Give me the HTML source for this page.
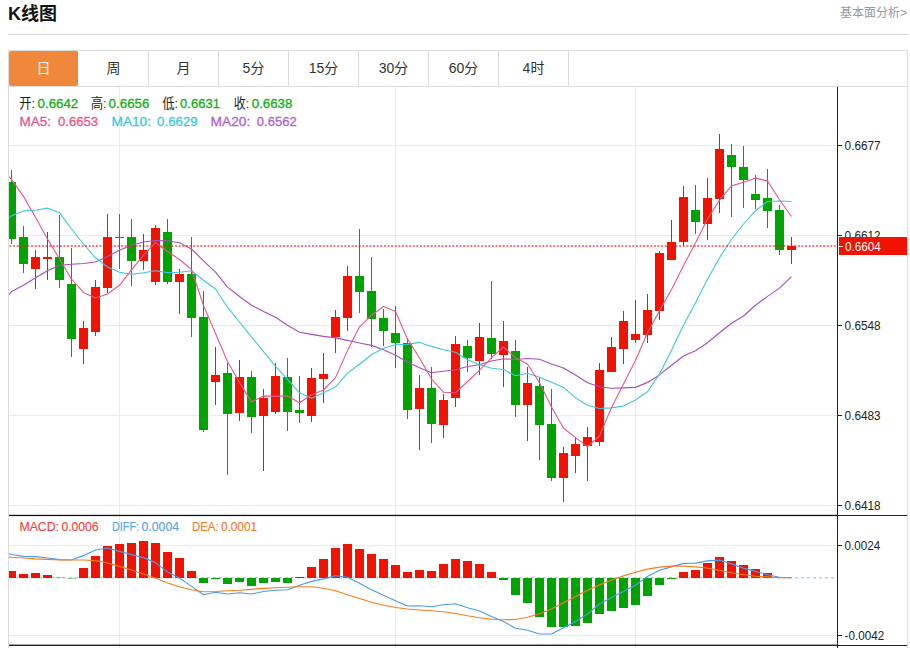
<!DOCTYPE html>
<html lang="zh"><head><meta charset="utf-8"><title>K线图</title>
<style>
html,body{margin:0;padding:0;background:#fff;}
body{width:910px;height:648px;position:relative;overflow:hidden;font-family:"Liberation Sans","Noto Sans CJK SC",sans-serif;color:#222;}
.title{position:absolute;left:8px;top:2px;font-size:18px;font-weight:bold;color:#111;line-height:24px;}
.more{position:absolute;right:3px;top:5px;font-size:12px;color:#999;line-height:16px;}
.hr{position:absolute;left:8px;top:34px;width:900px;height:1px;background:#d4d4d4;}
.tabs{position:absolute;left:8px;top:50px;width:898px;height:35px;border:1px solid #dcdcdc;display:flex;}
.tabs div{width:69px;height:35px;border-right:1px solid #dcdcdc;line-height:35px;text-align:center;font-size:14px;color:#333;}
.tabs div.on{background:#f0883c;color:#fff;border-radius:2px;border-right-color:#fff;}
</style></head><body>
<div class="title">K线图</div>
<div class="more">基本面分析&gt;</div>
<div class="hr"></div>
<div class="tabs"><div class="on">日</div><div>周</div><div>月</div><div>5分</div><div>15分</div><div>30分</div><div>60分</div><div>4时</div></div>
<svg width="910" height="648" viewBox="0 0 910 648" style="position:absolute;left:0;top:0" font-family="Liberation Sans, Noto Sans CJK SC, sans-serif">
<defs><clipPath id="cp"><rect x="9" y="87" width="828" height="559"/></clipPath></defs>
<line x1="9" x2="837" y1="145.5" y2="145.5" stroke="#e2ecf3" stroke-width="1"/>
<line x1="9" x2="837" y1="235.5" y2="235.5" stroke="#e2ecf3" stroke-width="1"/>
<line x1="9" x2="837" y1="325.5" y2="325.5" stroke="#e2ecf3" stroke-width="1"/>
<line x1="9" x2="837" y1="415.5" y2="415.5" stroke="#e2ecf3" stroke-width="1"/>
<line x1="9" x2="837" y1="505.5" y2="505.5" stroke="#e2ecf3" stroke-width="1"/>
<line x1="9" x2="837" y1="545.5" y2="545.5" stroke="#e2ecf3" stroke-width="1"/>
<line x1="9" x2="837" y1="635.5" y2="635.5" stroke="#e2ecf3" stroke-width="1"/>
<line x1="119.5" x2="119.5" y1="87" y2="648" stroke="#e2ecf3" stroke-width="1"/>
<line x1="395.5" x2="395.5" y1="87" y2="648" stroke="#e2ecf3" stroke-width="1"/>
<line x1="635.5" x2="635.5" y1="87" y2="648" stroke="#e2ecf3" stroke-width="1"/>
<line x1="8.5" x2="8.5" y1="87" y2="648" stroke="#dcdcdc" stroke-width="1"/>
<line x1="907.5" x2="907.5" y1="87" y2="648" stroke="#dddddd" stroke-width="1"/>
<line x1="9" x2="834.5" y1="577.7" y2="577.7" stroke="#a3d6f0" stroke-width="1.4" stroke-dasharray="3,3"/>
<g clip-path="url(#cp)" shape-rendering="crispEdges">
<rect x="11" y="170" width="1" height="74" fill="#00a400"/>
<rect x="7" y="182" width="9" height="57" fill="#00a400"/>
<rect x="23" y="226" width="1" height="47" fill="#00a400"/>
<rect x="19" y="237" width="9" height="27" fill="#00a400"/>
<rect x="35" y="250" width="1" height="39" fill="#f21202"/>
<rect x="31" y="257" width="9" height="12" fill="#f21202"/>
<rect x="47" y="232" width="1" height="48" fill="#f21202"/>
<rect x="43" y="257" width="9" height="2" fill="#f21202"/>
<rect x="59" y="215" width="1" height="73" fill="#00a400"/>
<rect x="55" y="257" width="9" height="23" fill="#00a400"/>
<rect x="71" y="248" width="1" height="109" fill="#00a400"/>
<rect x="67" y="284" width="9" height="55" fill="#00a400"/>
<rect x="83" y="321" width="1" height="43" fill="#f21202"/>
<rect x="79" y="328" width="9" height="21" fill="#f21202"/>
<rect x="95" y="280" width="1" height="56" fill="#f21202"/>
<rect x="91" y="287" width="9" height="45" fill="#f21202"/>
<rect x="107" y="214" width="1" height="79" fill="#f21202"/>
<rect x="103" y="237" width="9" height="51" fill="#f21202"/>
<rect x="119" y="214" width="1" height="55" fill="#00a400"/>
<rect x="115" y="237" width="9" height="1" fill="#00a400"/>
<rect x="131" y="219" width="1" height="67" fill="#00a400"/>
<rect x="127" y="237" width="9" height="24" fill="#00a400"/>
<rect x="143" y="234" width="1" height="36" fill="#f21202"/>
<rect x="139" y="250" width="9" height="11" fill="#f21202"/>
<rect x="155" y="225" width="1" height="60" fill="#f21202"/>
<rect x="151" y="228" width="9" height="54" fill="#f21202"/>
<rect x="167" y="219" width="1" height="65" fill="#00a400"/>
<rect x="163" y="232" width="9" height="50" fill="#00a400"/>
<rect x="179" y="269" width="1" height="45" fill="#f21202"/>
<rect x="175" y="274" width="9" height="8" fill="#f21202"/>
<rect x="191" y="237" width="1" height="100" fill="#00a400"/>
<rect x="187" y="274" width="9" height="44" fill="#00a400"/>
<rect x="203" y="291" width="1" height="141" fill="#00a400"/>
<rect x="199" y="317" width="9" height="113" fill="#00a400"/>
<rect x="215" y="347" width="1" height="58" fill="#f21202"/>
<rect x="211" y="375" width="9" height="7" fill="#f21202"/>
<rect x="227" y="363" width="1" height="112" fill="#00a400"/>
<rect x="223" y="373" width="9" height="41" fill="#00a400"/>
<rect x="239" y="360" width="1" height="61" fill="#f21202"/>
<rect x="235" y="377" width="9" height="36" fill="#f21202"/>
<rect x="251" y="371" width="1" height="62" fill="#00a400"/>
<rect x="247" y="377" width="9" height="40" fill="#00a400"/>
<rect x="263" y="389" width="1" height="82" fill="#f21202"/>
<rect x="259" y="398" width="9" height="18" fill="#f21202"/>
<rect x="275" y="363" width="1" height="51" fill="#f21202"/>
<rect x="271" y="376" width="9" height="36" fill="#f21202"/>
<rect x="287" y="358" width="1" height="73" fill="#00a400"/>
<rect x="283" y="377" width="9" height="35" fill="#00a400"/>
<rect x="299" y="376" width="1" height="47" fill="#00a400"/>
<rect x="295" y="410" width="9" height="3" fill="#00a400"/>
<rect x="311" y="368" width="1" height="54" fill="#f21202"/>
<rect x="307" y="378" width="9" height="38" fill="#f21202"/>
<rect x="323" y="353" width="1" height="50" fill="#f21202"/>
<rect x="319" y="374" width="9" height="5" fill="#f21202"/>
<rect x="335" y="310" width="1" height="43" fill="#f21202"/>
<rect x="331" y="317" width="9" height="20" fill="#f21202"/>
<rect x="347" y="266" width="1" height="65" fill="#f21202"/>
<rect x="343" y="276" width="9" height="42" fill="#f21202"/>
<rect x="359" y="229" width="1" height="84" fill="#00a400"/>
<rect x="355" y="276" width="9" height="16" fill="#00a400"/>
<rect x="371" y="257" width="1" height="90" fill="#00a400"/>
<rect x="367" y="291" width="9" height="28" fill="#00a400"/>
<rect x="383" y="309" width="1" height="37" fill="#00a400"/>
<rect x="379" y="318" width="9" height="13" fill="#00a400"/>
<rect x="395" y="306" width="1" height="62" fill="#00a400"/>
<rect x="391" y="333" width="9" height="10" fill="#00a400"/>
<rect x="407" y="338" width="1" height="81" fill="#00a400"/>
<rect x="403" y="343" width="9" height="67" fill="#00a400"/>
<rect x="419" y="375" width="1" height="75" fill="#f21202"/>
<rect x="415" y="388" width="9" height="21" fill="#f21202"/>
<rect x="431" y="367" width="1" height="76" fill="#00a400"/>
<rect x="427" y="388" width="9" height="36" fill="#00a400"/>
<rect x="443" y="394" width="1" height="44" fill="#f21202"/>
<rect x="439" y="400" width="9" height="25" fill="#f21202"/>
<rect x="455" y="336" width="1" height="71" fill="#f21202"/>
<rect x="451" y="344" width="9" height="54" fill="#f21202"/>
<rect x="467" y="340" width="1" height="32" fill="#00a400"/>
<rect x="463" y="346" width="9" height="12" fill="#00a400"/>
<rect x="479" y="323" width="1" height="52" fill="#f21202"/>
<rect x="475" y="337" width="9" height="24" fill="#f21202"/>
<rect x="491" y="281" width="1" height="78" fill="#00a400"/>
<rect x="487" y="338" width="9" height="16" fill="#00a400"/>
<rect x="503" y="321" width="1" height="66" fill="#f21202"/>
<rect x="499" y="341" width="9" height="14" fill="#f21202"/>
<rect x="515" y="340" width="1" height="77" fill="#00a400"/>
<rect x="511" y="351" width="9" height="54" fill="#00a400"/>
<rect x="527" y="367" width="1" height="74" fill="#f21202"/>
<rect x="523" y="383" width="9" height="22" fill="#f21202"/>
<rect x="539" y="377" width="1" height="83" fill="#00a400"/>
<rect x="535" y="386" width="9" height="39" fill="#00a400"/>
<rect x="551" y="389" width="1" height="92" fill="#00a400"/>
<rect x="547" y="424" width="9" height="54" fill="#00a400"/>
<rect x="563" y="447" width="1" height="55" fill="#f21202"/>
<rect x="559" y="453" width="9" height="25" fill="#f21202"/>
<rect x="575" y="437" width="1" height="36" fill="#f21202"/>
<rect x="571" y="444" width="9" height="12" fill="#f21202"/>
<rect x="587" y="427" width="1" height="54" fill="#f21202"/>
<rect x="583" y="437" width="9" height="9" fill="#f21202"/>
<rect x="599" y="363" width="1" height="83" fill="#f21202"/>
<rect x="595" y="370" width="9" height="72" fill="#f21202"/>
<rect x="611" y="337" width="1" height="35" fill="#f21202"/>
<rect x="607" y="347" width="9" height="25" fill="#f21202"/>
<rect x="623" y="311" width="1" height="53" fill="#f21202"/>
<rect x="619" y="321" width="9" height="28" fill="#f21202"/>
<rect x="635" y="300" width="1" height="43" fill="#f21202"/>
<rect x="631" y="334" width="9" height="6" fill="#f21202"/>
<rect x="647" y="294" width="1" height="49" fill="#f21202"/>
<rect x="643" y="310" width="9" height="25" fill="#f21202"/>
<rect x="659" y="251" width="1" height="69" fill="#f21202"/>
<rect x="655" y="253" width="9" height="58" fill="#f21202"/>
<rect x="671" y="220" width="1" height="40" fill="#f21202"/>
<rect x="667" y="242" width="9" height="18" fill="#f21202"/>
<rect x="683" y="186" width="1" height="60" fill="#f21202"/>
<rect x="679" y="197" width="9" height="45" fill="#f21202"/>
<rect x="695" y="185" width="1" height="49" fill="#00a400"/>
<rect x="691" y="210" width="9" height="12" fill="#00a400"/>
<rect x="707" y="178" width="1" height="62" fill="#f21202"/>
<rect x="703" y="198" width="9" height="26" fill="#f21202"/>
<rect x="719" y="134" width="1" height="79" fill="#f21202"/>
<rect x="715" y="149" width="9" height="50" fill="#f21202"/>
<rect x="731" y="144" width="1" height="73" fill="#00a400"/>
<rect x="727" y="155" width="9" height="12" fill="#00a400"/>
<rect x="743" y="146" width="1" height="62" fill="#00a400"/>
<rect x="739" y="167" width="9" height="13" fill="#00a400"/>
<rect x="755" y="175" width="1" height="34" fill="#00a400"/>
<rect x="751" y="194" width="9" height="6" fill="#00a400"/>
<rect x="767" y="169" width="1" height="59" fill="#00a400"/>
<rect x="763" y="198" width="9" height="13" fill="#00a400"/>
<rect x="779" y="205" width="1" height="50" fill="#00a400"/>
<rect x="775" y="210" width="9" height="40" fill="#00a400"/>
<rect x="791" y="237" width="1" height="27" fill="#f21202"/>
<rect x="787" y="246" width="9" height="4" fill="#f21202"/>
<rect x="7" y="571" width="9" height="7" fill="#f21202"/>
<rect x="19" y="574" width="9" height="4" fill="#f21202"/>
<rect x="31" y="573" width="9" height="5" fill="#f21202"/>
<rect x="43" y="575" width="9" height="3" fill="#f21202"/>
<rect x="55" y="577" width="9" height="1" fill="#f21202" fill-opacity="0.35"/>
<rect x="67" y="578" width="9" height="1" fill="#00a400" fill-opacity="0.4"/>
<rect x="79" y="568" width="9" height="10" fill="#f21202"/>
<rect x="91" y="556" width="9" height="22" fill="#f21202"/>
<rect x="103" y="546" width="9" height="32" fill="#f21202"/>
<rect x="115" y="544" width="9" height="34" fill="#f21202"/>
<rect x="127" y="543" width="9" height="35" fill="#f21202"/>
<rect x="139" y="541" width="9" height="37" fill="#f21202"/>
<rect x="151" y="543" width="9" height="35" fill="#f21202"/>
<rect x="163" y="552" width="9" height="26" fill="#f21202"/>
<rect x="175" y="558" width="9" height="20" fill="#f21202"/>
<rect x="187" y="571" width="9" height="7" fill="#f21202"/>
<rect x="199" y="578" width="9" height="5" fill="#00a400"/>
<rect x="211" y="578" width="9" height="1" fill="#00a400"/>
<rect x="223" y="578" width="9" height="6" fill="#00a400"/>
<rect x="235" y="578" width="9" height="4" fill="#00a400"/>
<rect x="247" y="578" width="9" height="8" fill="#00a400"/>
<rect x="259" y="578" width="9" height="5" fill="#00a400"/>
<rect x="271" y="578" width="9" height="4" fill="#00a400"/>
<rect x="283" y="578" width="9" height="5" fill="#00a400"/>
<rect x="295" y="577" width="9" height="1" fill="#f21202"/>
<rect x="307" y="567" width="9" height="11" fill="#f21202"/>
<rect x="319" y="559" width="9" height="19" fill="#f21202"/>
<rect x="331" y="548" width="9" height="30" fill="#f21202"/>
<rect x="343" y="544" width="9" height="34" fill="#f21202"/>
<rect x="355" y="549" width="9" height="29" fill="#f21202"/>
<rect x="367" y="554" width="9" height="24" fill="#f21202"/>
<rect x="379" y="559" width="9" height="19" fill="#f21202"/>
<rect x="391" y="565" width="9" height="13" fill="#f21202"/>
<rect x="403" y="572" width="9" height="6" fill="#f21202"/>
<rect x="415" y="570" width="9" height="8" fill="#f21202"/>
<rect x="427" y="571" width="9" height="7" fill="#f21202"/>
<rect x="439" y="564" width="9" height="14" fill="#f21202"/>
<rect x="451" y="559" width="9" height="19" fill="#f21202"/>
<rect x="463" y="561" width="9" height="17" fill="#f21202"/>
<rect x="475" y="564" width="9" height="14" fill="#f21202"/>
<rect x="487" y="572" width="9" height="6" fill="#f21202"/>
<rect x="499" y="578" width="9" height="2" fill="#00a400"/>
<rect x="511" y="578" width="9" height="17" fill="#00a400"/>
<rect x="523" y="578" width="9" height="25" fill="#00a400"/>
<rect x="535" y="578" width="9" height="39" fill="#00a400"/>
<rect x="547" y="578" width="9" height="49" fill="#00a400"/>
<rect x="559" y="578" width="9" height="49" fill="#00a400"/>
<rect x="571" y="578" width="9" height="48" fill="#00a400"/>
<rect x="583" y="578" width="9" height="45" fill="#00a400"/>
<rect x="595" y="578" width="9" height="36" fill="#00a400"/>
<rect x="607" y="578" width="9" height="33" fill="#00a400"/>
<rect x="619" y="578" width="9" height="30" fill="#00a400"/>
<rect x="631" y="578" width="9" height="27" fill="#00a400"/>
<rect x="643" y="578" width="9" height="18" fill="#00a400"/>
<rect x="655" y="578" width="9" height="7" fill="#00a400"/>
<rect x="667" y="578" width="9" height="1" fill="#00a400"/>
<rect x="679" y="572" width="9" height="6" fill="#f21202"/>
<rect x="691" y="570" width="9" height="8" fill="#f21202"/>
<rect x="703" y="563" width="9" height="15" fill="#f21202"/>
<rect x="715" y="557" width="9" height="21" fill="#f21202"/>
<rect x="727" y="561" width="9" height="17" fill="#f21202"/>
<rect x="739" y="565" width="9" height="13" fill="#f21202"/>
<rect x="751" y="569" width="9" height="9" fill="#f21202"/>
<rect x="763" y="573" width="9" height="5" fill="#f21202"/>
</g>
<g clip-path="url(#cp)">
<polyline fill="none" stroke="#ab4dc4" stroke-width="1.15" stroke-linejoin="round" points="9,294.6 11.5,291.6 23.5,285.3 35.5,277.8 47.5,270.8 59.5,265.3 71.5,264.3 83.5,263.5 95.5,262 107.5,256.5 119.5,250.3 131.5,245.2 143.5,242 155.5,240.5 167.5,240.7 179.5,242.7 191.5,249 203.5,260.8 215.5,272.2 227.5,287.1 239.5,296.5 251.5,305.3 263.5,311.5 275.5,317.3 287.5,325.3 299.5,332.2 311.5,334.4 323.5,336.4 335.5,337.9 347.5,340.4 359.5,343 371.5,345.4 383.5,349.7 395.5,355.2 407.5,362 419.5,367.8 431.5,372.7 443.5,371.3 455.5,369.7 467.5,366.5 479.5,364.7 491.5,361 503.5,358.7 515.5,359.5 527.5,358.5 539.5,359.2 551.5,364 563.5,368 575.5,375.1 587.5,382.8 599.5,386.7 611.5,388.2 623.5,387.9 635.5,387.4 647.5,382.4 659.5,374.9 671.5,365.3 683.5,356 695.5,350.8 707.5,342.8 719.5,332.8 731.5,323.2 743.5,316 755.5,305.2 767.5,296.4 779.5,288.1 791.5,276.6"/>
<polyline fill="none" stroke="#3fc6e0" stroke-width="1.1" stroke-linejoin="round" points="9,218.2 11.5,215.7 23.5,210.9 35.5,210.2 47.5,208.1 59.5,212.7 71.5,229 83.5,244 95.5,257.8 107.5,267 119.5,272.3 131.5,274.3 143.5,272.8 155.5,270.8 167.5,272.6 179.5,272.3 191.5,270.8 203.5,280.3 215.5,289 227.5,307.2 239.5,322 251.5,336.8 263.5,351.6 275.5,366.3 287.5,379.4 299.5,392.7 311.5,398.2 323.5,392.7 335.5,387.1 347.5,373.1 359.5,364.2 371.5,354.8 383.5,348.2 395.5,344.7 407.5,344.2 419.5,342.4 431.5,346.4 443.5,349.7 455.5,352.2 467.5,359.7 479.5,364.7 491.5,368.2 503.5,369.5 515.5,375.8 527.5,373.3 539.5,377.3 551.5,382.3 563.5,387.4 575.5,397.9 587.5,405.2 599.5,408.5 611.5,407.9 623.5,406 635.5,400 647.5,391.8 659.5,374.1 671.5,350.3 683.5,325.2 695.5,302.7 707.5,279.3 719.5,257.7 731.5,239.5 743.5,224 755.5,210.7 767.5,201.5 779.5,201 791.5,201.5"/>
<polyline fill="none" stroke="#ea5788" stroke-width="1.1" stroke-linejoin="round" points="9,177 11.5,179.6 23.5,196.4 35.5,217.2 47.5,239 59.5,259 71.5,279 83.5,292.4 95.5,297.9 107.5,294 119.5,285.3 131.5,269.8 143.5,255.3 155.5,242.7 167.5,251.5 179.5,259.5 191.5,269.5 203.5,305.5 215.5,333.5 227.5,361.5 239.5,382.6 251.5,401.9 263.5,395.9 275.5,396.4 287.5,395.9 299.5,402.7 311.5,394.8 323.5,390 335.5,377.6 347.5,350.6 359.5,326.8 371.5,315.3 383.5,306.5 395.5,311.5 407.5,339 419.5,358 431.5,379 443.5,392.3 455.5,392.8 467.5,381.5 479.5,370.3 491.5,357.7 503.5,347 515.5,357.7 527.5,364 539.5,382.8 551.5,407 563.5,428 575.5,437.6 587.5,446.6 599.5,436 611.5,407.4 623.5,384 635.5,360.3 647.5,332.8 659.5,310.7 671.5,289.6 683.5,265.5 695.5,243 707.5,219 719.5,200.2 731.5,185.9 743.5,182.2 755.5,178.1 767.5,180.9 779.5,199.7 791.5,216.5"/>
<polyline fill="none" stroke="#4a9ceb" stroke-width="1.15" stroke-linejoin="round" points="9,553.9 11.5,554.5 23.5,556.4 35.5,556.6 47.5,558 59.5,559.6 71.5,560 83.5,555.6 95.5,550 107.5,548 119.5,551.4 131.5,554.6 143.5,557.6 155.5,562.6 167.5,572 179.5,578 191.5,586.4 203.5,594.7 215.5,592.2 227.5,594 239.5,592.7 251.5,594 263.5,591.5 275.5,590.2 287.5,589.7 299.5,585.2 311.5,581.4 323.5,578.9 335.5,575.7 347.5,577.2 359.5,583.2 371.5,589.7 383.5,595.2 395.5,600.7 407.5,606 419.5,605.7 431.5,606.7 443.5,604.7 455.5,603.7 467.5,607.7 479.5,611 491.5,616.5 503.5,621.5 515.5,628.3 527.5,630.3 539.5,634 551.5,634 563.5,627.8 575.5,621.5 587.5,614 599.5,604 611.5,597.4 623.5,591.2 635.5,585.2 647.5,576.4 659.5,570.2 671.5,566.9 683.5,563.4 695.5,563.1 707.5,560.9 719.5,560.1 731.5,563.9 743.5,568.1 755.5,571.4 767.5,574.7 779.5,577.2 791.5,577.7"/>
<polyline fill="none" stroke="#f97c1c" stroke-width="1.15" stroke-linejoin="round" points="9,556.9 11.5,557.2 23.5,558 35.5,558.9 47.5,559.4 59.5,559.9 71.5,560 83.5,560 95.5,560.6 107.5,563 119.5,566.4 131.5,570 143.5,574 155.5,578 167.5,583 179.5,586.7 191.5,589.7 203.5,591.7 215.5,591.5 227.5,590.7 239.5,590.2 251.5,589.4 263.5,588.4 275.5,587.7 287.5,587.2 299.5,586.7 311.5,586.7 323.5,588.2 335.5,590.7 347.5,594.7 359.5,598.5 371.5,602.2 383.5,605.2 395.5,607.5 407.5,609 419.5,610 431.5,610.8 443.5,611.8 455.5,613.5 467.5,615.8 479.5,617.8 491.5,619.3 503.5,619.8 515.5,619.5 527.5,617.3 539.5,613.8 551.5,609 563.5,602.7 575.5,596.5 587.5,590.2 599.5,584.9 611.5,580.2 623.5,575.9 635.5,572.2 647.5,569.1 659.5,567.1 671.5,566.1 683.5,566.1 695.5,566.9 707.5,568.1 719.5,570.2 731.5,572.7 743.5,574.7 755.5,576.2 767.5,576.9 779.5,577.7 791.5,577.7"/>
</g>
<line x1="9.5" x2="835.6" y1="246" y2="246" stroke="#f21202" stroke-opacity="0.56" stroke-width="2" stroke-dasharray="2,1.6"/>
<rect x="837" y="87" width="1" height="561" fill="#222"/>
<rect x="9" y="514.8" width="829" height="1.3" fill="#111"/>
<rect x="838" y="515" width="69" height="1" fill="#222"/>
<rect x="9" y="644.6" width="829" height="1.3" fill="#111"/>
<rect x="838" y="645" width="69" height="1" fill="#222"/>
<rect x="838" y="145" width="4" height="1" fill="#222"/>
<text x="844.6" y="149.8" font-size="12.5" fill="#222" textLength="36" lengthAdjust="spacingAndGlyphs">0.6677</text>
<rect x="838" y="235" width="4" height="1" fill="#222"/>
<text x="844.6" y="239.8" font-size="12.5" fill="#222" textLength="36" lengthAdjust="spacingAndGlyphs">0.6612</text>
<rect x="838" y="325" width="4" height="1" fill="#222"/>
<text x="844.6" y="329.8" font-size="12.5" fill="#222" textLength="36" lengthAdjust="spacingAndGlyphs">0.6548</text>
<rect x="838" y="415" width="4" height="1" fill="#222"/>
<text x="844.6" y="419.8" font-size="12.5" fill="#222" textLength="36" lengthAdjust="spacingAndGlyphs">0.6483</text>
<rect x="838" y="505" width="4" height="1" fill="#222"/>
<text x="844.6" y="509.8" font-size="12.5" fill="#222" textLength="36" lengthAdjust="spacingAndGlyphs">0.6418</text>
<rect x="838" y="545" width="4" height="1" fill="#222"/>
<text x="844.6" y="549.8" font-size="12.5" fill="#222" textLength="35.6" lengthAdjust="spacingAndGlyphs">0.0024</text>
<rect x="838" y="635" width="4" height="1" fill="#222"/>
<text x="844.6" y="639.8" font-size="12.5" fill="#222" textLength="39.6" lengthAdjust="spacingAndGlyphs">-0.0042</text>
<rect x="839" y="237" width="68" height="18" fill="#f21202"/>
<rect x="839" y="246" width="4" height="0.8" fill="#fff"/>
<text x="844.9" y="250.8" font-size="12.5" fill="#fff" textLength="36" lengthAdjust="spacingAndGlyphs">0.6604</text>
<text x="19.3" y="108" font-size="13.4" fill="#222" textLength="15.7" lengthAdjust="spacingAndGlyphs">开:</text>
<text x="37.6" y="108" font-size="13.4" fill="#14ab16" stroke="#14ab16" stroke-width="0.3" textLength="40.6" lengthAdjust="spacingAndGlyphs">0.6642</text>
<text x="90.7" y="108" font-size="13.4" fill="#222" textLength="15.8" lengthAdjust="spacingAndGlyphs">高:</text>
<text x="108.6" y="108" font-size="13.4" fill="#14ab16" stroke="#14ab16" stroke-width="0.3" textLength="40.8" lengthAdjust="spacingAndGlyphs">0.6656</text>
<text x="162.2" y="108" font-size="13.4" fill="#222" textLength="15.8" lengthAdjust="spacingAndGlyphs">低:</text>
<text x="180.1" y="108" font-size="13.4" fill="#14ab16" stroke="#14ab16" stroke-width="0.3" textLength="39.8" lengthAdjust="spacingAndGlyphs">0.6631</text>
<text x="233.8" y="108" font-size="13.4" fill="#222" textLength="15.2" lengthAdjust="spacingAndGlyphs">收:</text>
<text x="251.8" y="108" font-size="13.4" fill="#14ab16" stroke="#14ab16" stroke-width="0.3" textLength="40.6" lengthAdjust="spacingAndGlyphs">0.6638</text>
<text x="19.4" y="126" font-size="13.4" fill="#ea5788" stroke="#ea5788" stroke-width="0.3" textLength="31.6" lengthAdjust="spacingAndGlyphs">MA5:</text>
<text x="58.1" y="126" font-size="13.4" fill="#ea5788" stroke="#ea5788" stroke-width="0.3" textLength="39.8" lengthAdjust="spacingAndGlyphs">0.6653</text>
<text x="111.5" y="126" font-size="13.4" fill="#3fc6e0" stroke="#3fc6e0" stroke-width="0.3" textLength="39.5" lengthAdjust="spacingAndGlyphs">MA10:</text>
<text x="157.1" y="126" font-size="13.4" fill="#3fc6e0" stroke="#3fc6e0" stroke-width="0.3" textLength="40.6" lengthAdjust="spacingAndGlyphs">0.6629</text>
<text x="210.5" y="126" font-size="13.4" fill="#b45fd0" stroke="#b45fd0" stroke-width="0.3" textLength="39.8" lengthAdjust="spacingAndGlyphs">MA20:</text>
<text x="256.8" y="126" font-size="13.4" fill="#b45fd0" stroke="#b45fd0" stroke-width="0.3" textLength="40" lengthAdjust="spacingAndGlyphs">0.6562</text>
<text x="19.4" y="531" font-size="12.5" fill="#f0413c" stroke="#f0413c" stroke-width="0.12" textLength="39.6" lengthAdjust="spacingAndGlyphs">MACD:</text>
<text x="61.4" y="531" font-size="12.5" fill="#f0413c" stroke="#f0413c" stroke-width="0.12" textLength="37.2" lengthAdjust="spacingAndGlyphs">0.0006</text>
<text x="112" y="531" font-size="12.5" fill="#55a3ea" stroke="#55a3ea" stroke-width="0.12" textLength="27.1" lengthAdjust="spacingAndGlyphs">DIFF:</text>
<text x="141.4" y="531" font-size="12.5" fill="#55a3ea" stroke="#55a3ea" stroke-width="0.12" textLength="37.7" lengthAdjust="spacingAndGlyphs">0.0004</text>
<text x="192" y="531" font-size="12.5" fill="#f47a22" stroke="#f47a22" stroke-width="0.12" textLength="26.6" lengthAdjust="spacingAndGlyphs">DEA:</text>
<text x="220.9" y="531" font-size="12.5" fill="#f47a22" stroke="#f47a22" stroke-width="0.12" textLength="36.2" lengthAdjust="spacingAndGlyphs">0.0001</text>
</svg>
</body></html>
